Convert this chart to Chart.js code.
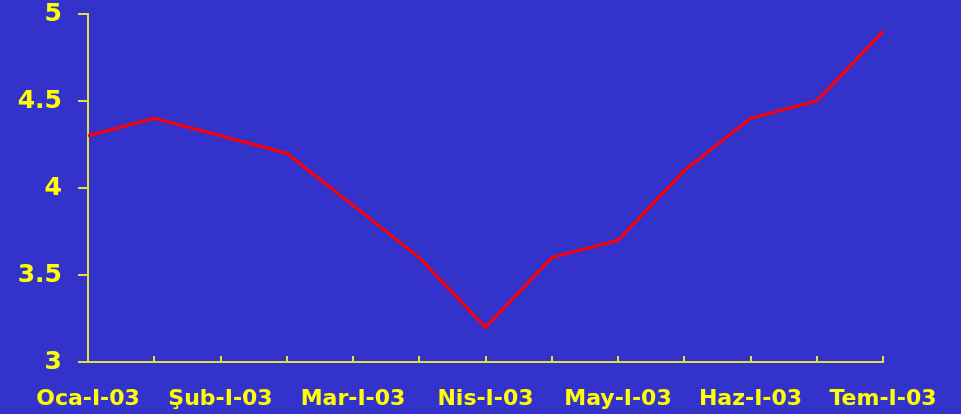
<!DOCTYPE html>
<html>
<head>
<meta charset="utf-8">
<script src="https://cdn.jsdelivr.net/npm/chart.js@4/dist/chart.umd.min.js"></script>
<style>
  html, body { margin: 0; padding: 0; background: #3333CC; }
  #wrap { width: 961px; height: 414px; }
</style>
</head>
<body>
<div id="wrap"><canvas id="c" width="961" height="414"></canvas></div>
<script>
const categories = ["Oca-I-03","Oca-II-03","Şub-I-03","Şub-II-03","Mar-I-03","Mar-II-03","Nis-I-03","Nis-II-03","May-I-03","May-II-03","Haz-I-03","Haz-II-03","Tem-I-03"];
const values = [4.3, 4.4, 4.3, 4.2, 3.9, 3.6, 3.2, 3.6, 3.7, 4.1, 4.4, 4.5, 4.9];
const yTicks = [3, 3.5, 4, 4.5, 5];

const YELLOW = '#FFFF00';
const AXIS = '#E0E040';

new Chart(document.getElementById('c'), {
  type: 'line',
  data: {
    labels: categories,
    datasets: [{
      data: values,
      borderColor: '#FF0000',
      borderWidth: 3,
      pointRadius: 0,
      tension: 0,
      fill: false
    }]
  },
  options: {
    responsive: false,
    animation: false,
    devicePixelRatio: 1,
    layout: { autoPadding: false, padding: { left: 0, right: 78, top: 14, bottom: 0 } },
    plugins: { legend: { display: false }, tooltip: { enabled: false } },
    scales: {
      x: {
        offset: false,
        afterFit: s => { s.height = 52; s.paddingLeft = 0; s.paddingRight = 0; },
        border: { color: AXIS, width: 2 },
        grid: { drawOnChartArea: false, drawTicks: true, tickLength: -6, color: AXIS, lineWidth: 2 },
        ticks: {
          color: YELLOW,
          autoSkip: false,
          maxRotation: 0,
          padding: 30,
          font: { family: 'DejaVu Sans', weight: 'bold', size: 22 },
          callback: function(v, i) { return i % 2 === 0 ? this.getLabelForValue(v) : ''; }
        }
      },
      y: {
        min: yTicks[0],
        max: yTicks[yTicks.length - 1],
        afterFit: s => { s.width = 88; s.paddingTop = 0; s.paddingBottom = 0; },
        afterBuildTicks: s => { s.ticks = yTicks.map(v => ({ value: v })); },
        border: { color: AXIS, width: 2 },
        grid: { drawOnChartArea: false, drawTicks: true, tickLength: 10, color: AXIS, lineWidth: 2 },
        ticks: {
          color: YELLOW,
          padding: 16,
          font: { family: 'DejaVu Sans', weight: 'bold', size: 25 },
          callback: v => String(v)
        }
      }
    }
  }
});
</script>
</body>
</html>
